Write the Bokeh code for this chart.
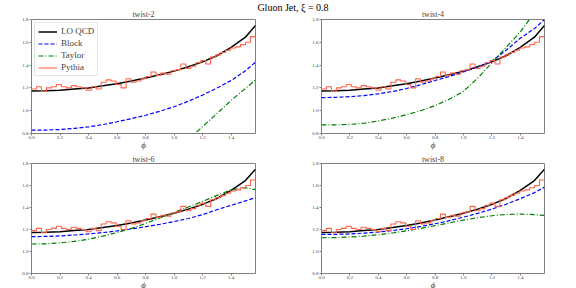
import numpy as np
from bokeh.plotting import figure
from bokeh.layouts import gridplot, column
from bokeh.models import Div, Range1d, FixedTicker, Legend, LegendItem
from bokeh.embed import file_html
from bokeh.resources import INLINE

# ---------------- data ----------------
phi = [0.0, 0.1, 0.2, 0.3, 0.4, 0.5, 0.6, 0.7, 0.8, 0.9, 1.0, 1.1, 1.2, 1.3, 1.4, 1.5, np.pi / 2]

lo_qcd = [1.172, 1.174, 1.180, 1.190, 1.200, 1.218, 1.237, 1.260, 1.287, 1.315,
          1.347, 1.385, 1.428, 1.482, 1.555, 1.645, 1.748]

block_t2 = [0.829, 0.830, 0.835, 0.845, 0.858, 0.878, 0.903, 0.930, 0.960, 0.995,
            1.035, 1.083, 1.137, 1.198, 1.265, 1.350, 1.425]
taylor_t2 = [np.nan] * 10 + [0.640, 0.750, 0.860, 0.975, 1.090, 1.195, 1.270]

block_t4 = [1.115, 1.117, 1.123, 1.133, 1.148, 1.168, 1.195, 1.228, 1.265, 1.300,
            1.340, 1.380, 1.435, 1.530, 1.635, 1.720, 1.800]
taylor_t4 = [0.875, 0.876, 0.880, 0.890, 0.910, 0.935, 0.965, 1.000, 1.045, 1.100,
             1.170, 1.285, 1.420, 1.555, 1.690, 1.860, 1.970]

block_t6 = [1.135, 1.137, 1.142, 1.150, 1.160, 1.172, 1.187, 1.205, 1.225, 1.247,
            1.272, 1.300, 1.335, 1.380, 1.420, 1.460, 1.490]
taylor_t6 = [1.068, 1.070, 1.078, 1.092, 1.112, 1.140, 1.172, 1.210, 1.255, 1.305,
             1.355, 1.405, 1.455, 1.510, 1.560, 1.580, 1.562]

block_t8 = [1.155, 1.156, 1.160, 1.167, 1.177, 1.190, 1.207, 1.228, 1.252, 1.280,
            1.312, 1.347, 1.385, 1.430, 1.480, 1.535, 1.585]
taylor_t8 = [1.125, 1.127, 1.132, 1.140, 1.152, 1.168, 1.188, 1.210, 1.235, 1.260,
             1.285, 1.307, 1.325, 1.337, 1.340, 1.335, 1.328]

pythia = [1.19, 1.21, 1.17, 1.20, 1.21, 1.23, 1.21, 1.20, 1.22, 1.21,
          1.20, 1.18, 1.21, 1.19, 1.25, 1.27, 1.26, 1.23, 1.20, 1.28,
          1.25, 1.26, 1.28, 1.30, 1.34, 1.31, 1.33, 1.32, 1.35, 1.36,
          1.41, 1.37, 1.39, 1.42, 1.44, 1.41, 1.47, 1.49, 1.51, 1.53,
          1.55, 1.56, 1.58, 1.60, 1.65]
pythia_edges = np.linspace(0.0, np.pi / 2, len(pythia) + 1)

x_ticks = [0.0, 0.2, 0.4, 0.6, 0.8, 1.0, 1.2, 1.4]
x_tick_labels = ["0.0", "0.2", "0.4", "0.6", "0.8", "1.0", "1.2", "1.4"]
y_ticks = [0.8, 1.0, 1.2, 1.4, 1.6, 1.8]
y_tick_labels = ["0.8", "1.0", "1.2", "1.4", "1.6", "1.8"]

panel_titles = ["twist-2", "twist-4", "twist-6", "twist-8"]
series_names = ["LO QCD", "Block", "Taylor", "Pythia"]
main_title = "Gluon Jet, ξ = 0.8"
x_label = "ϕ"

SERIF = "Liberation Serif"
FRAME = "#808080"


def make_panel(title, block, taylor, fw, fh, bl, br, bt, bb, tstand, legend=False):
    p = figure(frame_width=fw, frame_height=fh, output_backend="svg", toolbar_location=None,
               x_range=Range1d(0, np.pi / 2), y_range=Range1d(0.8, 1.8),
               min_border_left=bl, min_border_right=br, min_border_top=bt,
               min_border_bottom=bb, min_border=0, title=title)
    p.title.align = "center"
    p.title.text_font = SERIF
    p.title.text_font_size = "8px"
    p.title.text_font_style = "normal"
    p.title.standoff = tstand
    p.title.offset = 0
    p.grid.visible = False
    p.outline_line_color = FRAME
    p.outline_line_width = 1
    for ax in (p.xaxis[0], p.yaxis[0]):
        ax.axis_line_color = None
        ax.major_tick_line_color = FRAME
        ax.major_tick_out = 2
        ax.major_tick_in = 0
        ax.minor_tick_line_color = None
        ax.major_label_text_font = SERIF
        ax.major_label_text_font_size = "5px"
        ax.major_label_standoff = 0
    p.yaxis.major_label_standoff = 1
    p.xaxis.ticker = FixedTicker(ticks=x_ticks)
    p.xaxis.major_label_overrides = dict(zip(x_ticks, x_tick_labels))
    p.yaxis.ticker = FixedTicker(ticks=y_ticks)
    p.yaxis.major_label_overrides = dict(zip(y_ticks, y_tick_labels))
    p.xaxis.axis_label = x_label
    p.xaxis.axis_label_text_font = SERIF
    p.xaxis.axis_label_text_font_size = "9px"
    p.xaxis.axis_label_text_font_style = "italic"
    p.xaxis.axis_label_standoff = -2

    r1 = p.line(phi, lo_qcd, line_color="black", line_width=1.5)
    r2 = p.line(phi, block, line_color="blue", line_width=1.2, line_dash="4 2")
    r3 = p.line(phi, taylor, line_color="green", line_width=1.2, line_dash="5 2 1 2")
    r4 = p.step(list(pythia_edges), pythia + [pythia[-1]], mode="after",
                line_color="tomato", line_width=1.1)
    if legend:
        lg = Legend(items=[LegendItem(label=n, renderers=[r]) for n, r in
                           zip(series_names, [r1, r2, r3, r4])],
                    location="top_left")
        lg.label_text_font = SERIF
        lg.label_text_font_size = "9px"
        lg.glyph_width = 19
        lg.glyph_height = 9
        lg.label_height = 9
        lg.label_standoff = 4
        lg.spacing = 2
        lg.padding = 3
        lg.margin = 3
        lg.border_line_color = "#cccccc"
        lg.background_fill_alpha = 0.8
        p.add_layout(lg, "center")
    return p


p1 = make_panel(panel_titles[0], block_t2, taylor_t2, 224, 114, 31, 33, 19, 15, 1, legend=True)
p2 = make_panel(panel_titles[1], block_t4, taylor_t4, 223, 114, 33, 32, 19, 15, 1)
p3 = make_panel(panel_titles[2], block_t6, taylor_t6, 224, 110, 31, 33, 8, 15, 0)
p4 = make_panel(panel_titles[3], block_t8, taylor_t8, 223, 110, 33, 32, 8, 15, 0)

grid = gridplot([[p1, p2], [p3, p4]], toolbar_location=None)
head = Div(text=main_title, width=576, height=0,
           styles={"position": "absolute", "top": "-2px", "left": "0px",
                   "width": "576px", "text-align": "center", "z-index": "10",
                   "font-family": SERIF, "font-size": "10px", "line-height": "10px"})
layout = column(head, grid)

open("out.html", "w").write(file_html(layout, INLINE))
